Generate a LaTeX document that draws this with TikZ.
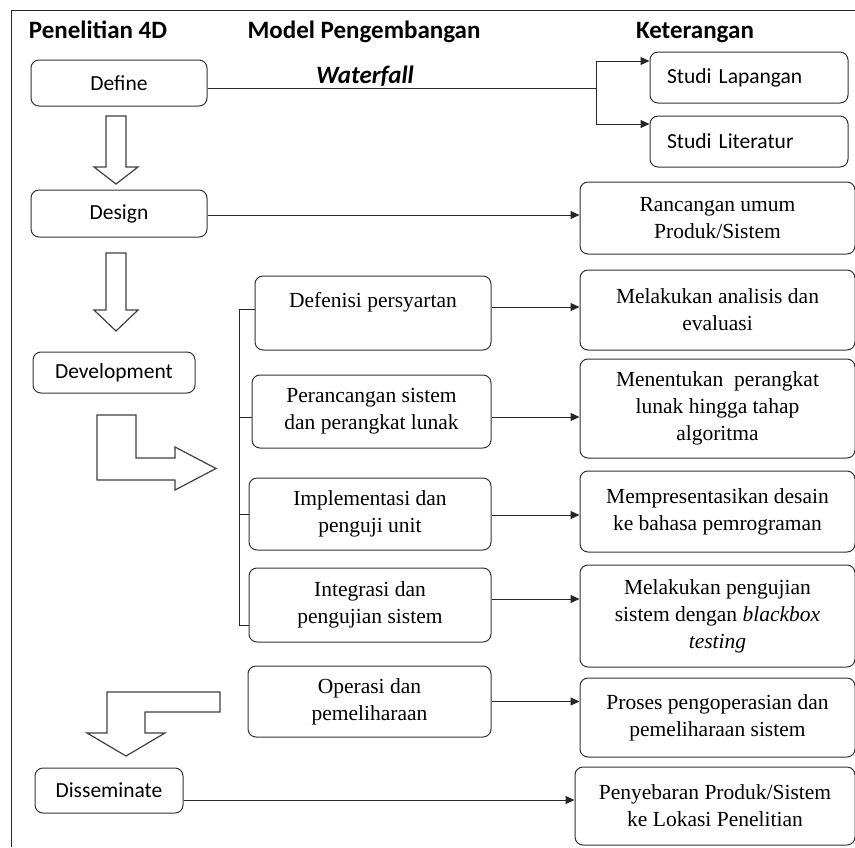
\documentclass[tikz,border=0pt]{standalone}
\usepackage{fontspec}
\setmainfont{Liberation Serif}
\newfontfamily\calibri{Carlito}
\usetikzlibrary{arrows.meta}
\tikzset{
  box/.style={draw=black!80, line width=1pt, rounded corners=8pt, inner sep=0pt, align=center},
  sbox/.style={box, font=\calibri\fontsize{21.5}{26}\selectfont},
  rbox/.style={box, font=\fontsize{21.5}{27}\selectfont},
  head/.style={anchor=base, font=\calibri\fontsize{25}{30}\selectfont\bfseries},
  conn/.style={draw=black!85, line width=1pt},
  arr/.style={conn, -{Triangle[length=9pt,width=8pt]}},
  blk/.style={draw=black!75, line width=1.2pt, fill=white, line join=miter}
}
\begin{document}
\begin{tikzpicture}[x=1pt,y=-1pt]
\useasboundingbox (0,0) rectangle (855,847);
% frame
\draw[conn] (11,847) -- (11,10) -- (855,10);
% headers
\node[head] (h1) at (98,38) {Penelitian 4D};
\node[head] (h2) at (364,38) {Model Pengembangan};
\node[head] (h3) at (365,83) {\itshape Waterfall};
\node[head] (h4) at (695,38) {Keterangan};
% left column
\node[sbox, minimum width=176pt, minimum height=46pt] (define) at (119,83) {Define};
\node[sbox, minimum width=176pt, minimum height=47pt] (design) at (119,213.5) {Design};
\node[sbox, minimum width=162pt, minimum height=41pt] (devel) at (114,372.5) {Development};
\node[sbox, minimum width=148pt, minimum height=45pt] (dissem) at (109,790.5) {Disseminate};
% middle column
\node[rbox, minimum width=236pt, minimum height=74pt] (def) at (373,313) {Defenisi persyartan\\\mbox{}};
\node[rbox, minimum width=239pt, minimum height=73pt] (per) at (371.5,411.5) {Perancangan sistem\\dan perangkat lunak};
\node[rbox, minimum width=242pt, minimum height=72pt] (imp) at (370,514) {Implementasi dan\\penguji unit};
\node[rbox, minimum width=242pt, minimum height=74pt] (int) at (370,605) {Integrasi dan\\pengujian sistem};
\node[rbox, minimum width=243pt, minimum height=71pt] (ope) at (369.5,701.5) {Operasi dan\\pemeliharaan};
% right column
\node[sbox, minimum width=198pt, minimum height=51pt, text width=164pt, align=left, inner xsep=17pt] (slap) at (749,77.5) {Studi Lapangan};
\node[sbox, minimum width=198pt, minimum height=51pt, text width=164pt, align=left, inner xsep=17pt] (slit) at (749,141.5) {Studi Literatur};
\node[rbox, minimum width=275pt, minimum height=72pt] (ran) at (717.5,218) {Rancangan umum\\Produk/Sistem};
\node[rbox, minimum width=275pt, minimum height=80pt] (mel) at (717.5,310) {Melakukan analisis dan\\evaluasi};
\node[rbox, minimum width=275pt, minimum height=99pt] (men) at (717.5,408.5) {Menentukan\ \ perangkat\\lunak hingga tahap\\algoritma};
\node[rbox, minimum width=275pt, minimum height=81pt] (mem) at (717.5,511.5) {Mempresentasikan desain\\ke bahasa pemrograman};
\node[rbox, minimum width=275pt, minimum height=102pt] (uji) at (717.5,616) {Melakukan pengujian\\sistem dengan \textit{blackbox}\\\textit{testing}};
\node[rbox, minimum width=275pt, minimum height=79pt] (pro) at (717.5,717.5) {Proses pengoperasian dan\\pemeliharaan sistem};
\node[rbox, minimum width=280pt, minimum height=78pt] (pen) at (715,806) {Penyebaran Produk/Sistem\\ke Lokasi Penelitian};
% define fork
\coordinate (fork) at (596,88);
\draw[conn] ([yshift=-5pt]define.east) -- (fork);
\draw[arr] (fork) |- ([yshift=16.5pt]slap.west);
\draw[arr] (fork) |- ([yshift=17.5pt]slit.west);
% horizontal arrows
\draw[arr] ([yshift=-1.5pt]design.east) -- ([yshift=-1.5pt]design.east -| ran.west);
\draw[arr] ([yshift=6pt]def.east) -- ([yshift=6pt]def.east -| mel.west);
\draw[arr] ([yshift=-5.5pt]per.east) -- ([yshift=-5.5pt]per.east -| men.west);
\draw[arr] ([yshift=-1pt]imp.east) -- ([yshift=-1pt]imp.east -| mem.west);
\draw[arr] ([yshift=6pt]int.east) -- ([yshift=6pt]int.east -| uji.west);
\draw[arr] (ope.east) -- (ope.east -| pro.west);
\draw[arr] ([yshift=-9.5pt]dissem.east) -- ([yshift=-9.5pt]dissem.east -| pen.west);
% bracket
\coordinate (sp) at (239,0);
\draw[conn] ([yshift=4pt]def.west) -- ([yshift=4pt]def.west -| sp) -- ([yshift=-20pt]int.west -| sp) -- ([yshift=-20pt]int.west);
\draw[conn] ([yshift=-5.5pt]per.west) -- ([yshift=-5.5pt]per.west -| sp);
\draw[conn] (imp.west) -- (imp.west -| sp);
% block arrows
\draw[blk] (106,116) -- (126,116) -- (126,167) -- (138,167) -- (116,184) -- (94,167) -- (106,167) -- cycle;
\draw[blk] (106,253) -- (126,253) -- (126,310) -- (138,310) -- (116,331) -- (94,310) -- (106,310) -- cycle;
\draw[blk] (97,415) -- (136,415) -- (136,458) -- (175,458) -- (175,447) -- (216,468.5) -- (175,490) -- (175,480) -- (97,480) -- cycle;
\draw[blk] (107,692) -- (220,692) -- (220,712) -- (145,712) -- (145,733) -- (165,733) -- (126,756) -- (87,733) -- (107,733) -- cycle;
\end{tikzpicture}
\end{document}
